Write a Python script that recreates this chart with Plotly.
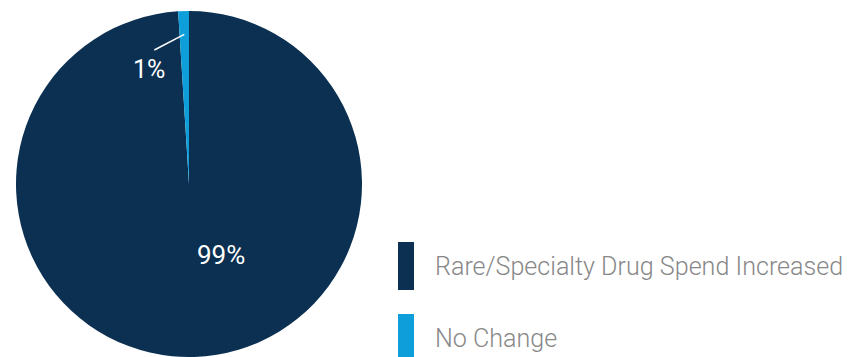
import math
import plotly.graph_objects as go

# Survey result: change in rare/specialty drug spend
labels = ["Rare/Specialty Drug Spend Increased", "No Change"]
values = [99, 1]
colors = ["#0b3052", "#0e9fdb"]

W, H = 851, 357

# Pie placement in pixels (left, right, top, bottom of the pie's domain)
pie_left, pie_right = 16, 362
pie_top, pie_bottom = 11, 357
cx = (pie_left + pie_right) / 2
cy = (pie_top + pie_bottom) / 2
R = min(pie_right - pie_left, pie_bottom - pie_top) / 2


def px_to_paper(x, y):
    return x / W, 1 - y / H


def polar_px(angle_deg, rfrac):
    """Point at clockwise angle from 12 o'clock, at rfrac * radius."""
    a = math.radians(angle_deg)
    return cx + rfrac * R * math.sin(a), cy - rfrac * R * math.cos(a)


total = sum(values)
# Slices run clockwise from 12 o'clock, so the last slice ends at 360 deg
starts = []
acc = 0
for v in values:
    starts.append(acc / total * 360)
    acc += v
mids = [s + v / total * 180 for s, v in zip(starts, values)]

fig = go.Figure(
    go.Pie(
        labels=labels,
        values=values,
        sort=False,
        direction="clockwise",
        rotation=0,
        marker=dict(colors=colors, line=dict(width=0)),
        textinfo="none",
        hoverinfo="label+percent",
        showlegend=False,
        domain=dict(
            x=[pie_left / W, pie_right / W],
            y=[1 - pie_bottom / H, 1 - pie_top / H],
        ),
    )
)

annotations = []
shapes = []

# Value label for the large slice
lx, ly = polar_px(156, 0.45)
px_, py_ = px_to_paper(lx, ly)
annotations.append(dict(
    x=px_, y=py_, xref="paper", yref="paper",
    xanchor="center", yanchor="middle",
    text=f"{values[0]}%", showarrow=False,
    font=dict(family="Roboto", weight=400, size=26, color="white"),
))

# Value label for the small slice, with a leader line
lx, ly = polar_px(-19.2, 0.70)
px_, py_ = px_to_paper(lx, ly)
annotations.append(dict(
    x=px_, y=py_, xref="paper", yref="paper",
    xanchor="center", yanchor="middle",
    text=f"{values[1]}%", showarrow=False,
    font=dict(family="Roboto", weight=400, size=25, color="white"),
))
x0, y0 = polar_px(-14.5, 0.80)
x1, y1 = polar_px(mids[1] - 360, 0.865)
p0 = px_to_paper(x0, y0)
p1 = px_to_paper(x1, y1)
shapes.append(dict(
    type="line", xref="paper", yref="paper",
    x0=p0[0], y0=p0[1], x1=p1[0], y1=p1[1],
    line=dict(color="white", width=1.5),
))

# Legend: tall colour bars with labels
legend_x0, legend_x1 = 398, 414
legend_text_x = 433
legend_rows = [(242, 290), (314, 362)]
for (top, bot), lab, col in zip(legend_rows, labels, colors):
    a = px_to_paper(legend_x0, top)
    b = px_to_paper(legend_x1, bot)
    shapes.append(dict(
        type="rect", xref="paper", yref="paper",
        x0=a[0], x1=b[0], y0=b[1], y1=a[1],
        fillcolor=col, line=dict(width=0),
    ))
    tx, ty = px_to_paper(legend_text_x, (top + bot) / 2)
    annotations.append(dict(
        x=tx, y=ty, xref="paper", yref="paper",
        xanchor="left", yanchor="middle",
        text=lab, showarrow=False,
        font=dict(family="Roboto", weight=300, size=25.1, color="#888888"),
    ))

fig.update_layout(
    width=W, height=H,
    margin=dict(l=0, r=0, t=0, b=0),
    paper_bgcolor="white",
    plot_bgcolor="white",
    annotations=annotations,
    shapes=shapes,
)

fig.write_html("out.html")
